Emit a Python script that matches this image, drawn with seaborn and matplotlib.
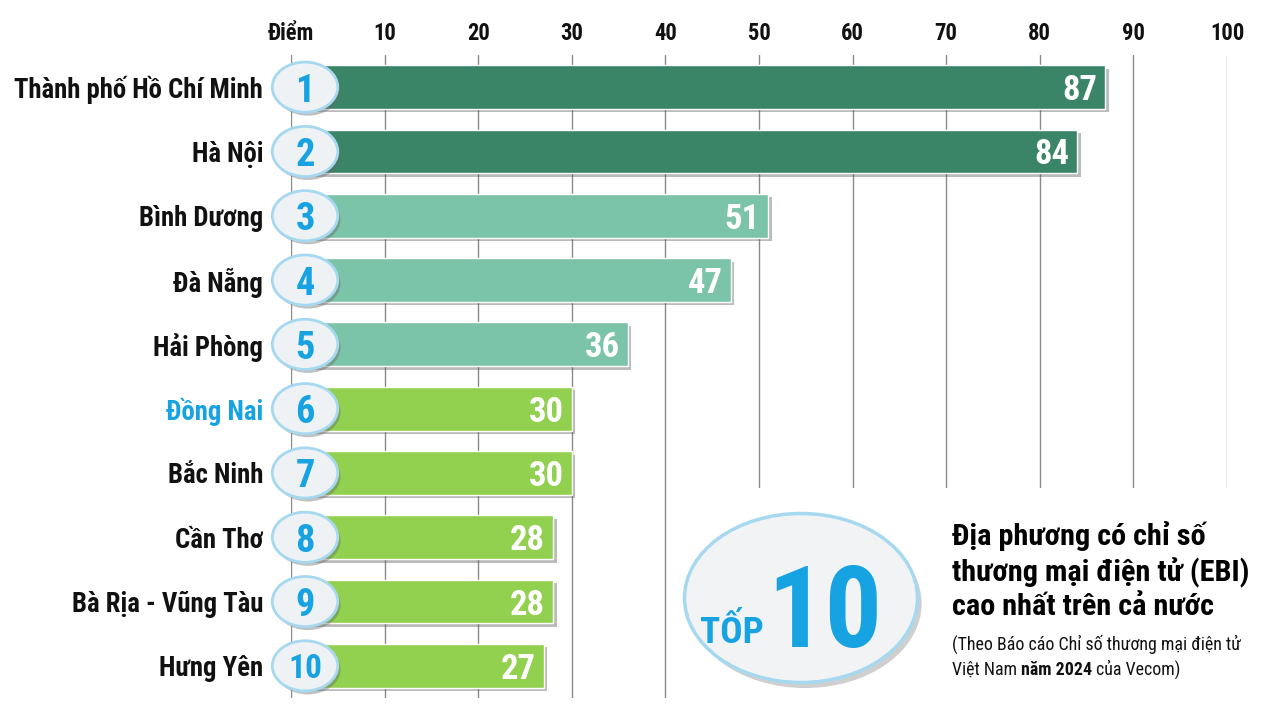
import matplotlib
matplotlib.use("Agg")
import matplotlib.pyplot as plt
import matplotlib.patheffects as pe
from matplotlib import font_manager as fm
from matplotlib.patches import Ellipse
import seaborn as sns

# data
cities = ["Thành phố Hồ Chí Minh", "Hà Nội", "Bình Dương", "Đà Nẵng", "Hải Phòng",
          "Đồng Nai", "Bắc Ninh", "Cần Thơ", "Bà Rịa - Vũng Tàu", "Hưng Yên"]
scores = [87, 84, 51, 47, 36, 30, 30, 28, 28, 27]
ranks = ["1", "2", "3", "4", "5", "6", "7", "8", "9", "10"]
bar_colors = ["#3a8468", "#3a8468", "#7cc4a9", "#7cc4a9", "#7cc4a9",
              "#92d050", "#92d050", "#92d050", "#92d050", "#92d050"]
tick_values = [0, 10, 20, 30, 40, 50, 60, 70, 80, 90, 100]
tick_labels = ["Điểm", "10", "20", "30", "40", "50", "60", "70", "80", "90", "100"]
highlight_city = "Đồng Nai"

title_lines = ["Địa phương có chỉ số", "thương mại điện tử (EBI)", "cao nhất trên cả nước"]
note_line1 = "(Theo Báo cáo Chỉ số thương mại điện tử"
note_line2 = [("Việt Nam", "normal"), ("năm 2024", "bold"), ("của Vecom)", "normal")]

BLUE = "#17a2e2"
W, H = 1281, 719

sns.set_style("white")

# the reference uses a condensed face; take the narrowest one that is installed
entries = fm.fontManager.ttflist
FONT, STRETCH = "Roboto", "normal"
for name in ["Roboto Condensed", "Liberation Sans Narrow", "Open Sans Condensed"]:
    if any(f.name == name for f in entries):
        FONT = name
        break
else:
    for name in ["Noto Sans", "Open Sans", "DejaVu Sans", "Roboto"]:
        st = [f.stretch for f in entries if f.name == name and f.stretch in ("condensed", "semi-condensed")]
        if st:
            FONT, STRETCH = name, ("condensed" if "condensed" in st else st[0])
            break
plt.rcParams["font.family"] = [FONT, "DejaVu Sans"]
plt.rcParams["font.stretch"] = STRETCH

fig = plt.figure(figsize=(W / 100, H / 100), dpi=100)
renderer = fig.canvas.get_renderer()


def text_w(s, size, weight="bold"):
    t = fig.text(0, 0, s, fontsize=size, fontweight=weight)
    w = t.get_window_extent(renderer).width
    t.remove()
    return w


# size factors so the text keeps the widths seen in the reference
k = min(1.05, 249 / text_w(cities[0], 20))
kt = 298 / text_w(title_lines[1], 19)
kn = 288 / text_w(note_line1, 13.5, "normal")
kd = min(1.0, 35 / text_w("87", 28))

ax = fig.add_axes([291 / W, 1 - 698 / H, (1227 - 291) / W, (698 - 55) / H])

sns.barplot(x=scores, y=cities, hue=cities, palette=bar_colors, legend=False,
            orient="h", width=0.68, saturation=1, ax=ax, zorder=2)
ax.set_xlim(0, 100)
ax.set_ylim(9.5, -0.5)
ax.set_xlabel("")
ax.set_ylabel("")
for s in ax.spines.values():
    s.set_visible(False)

# vertical grid, cut short on the right where the badge sits
for v in tick_values:
    ax.axvline(v, ymin=(0.328 if v >= 50 else 0), ymax=1, color="#8a8a8a", lw=1, zorder=0)

# bar shadows + value labels
for p, v in zip(ax.patches, scores):
    p.set_path_effects([pe.SimplePatchShadow(offset=(2.5, -2.5), shadow_rgbFace="#555555", alpha=0.4),
                        pe.Normal()])
    ax.annotate(str(v), xy=(p.get_width(), p.get_y() + p.get_height() / 2),
                xytext=(-6, 0), textcoords="offset points", ha="right", va="center_baseline",
                color="white", fontsize=28 * kd, fontweight="bold", zorder=5)

# rank badges
for i, r in enumerate(ranks):
    ell = Ellipse((1.5, i), width=7.0, height=0.78, facecolor="#eef2f5", edgecolor="#a6d9ef",
                  lw=2, zorder=4, clip_on=False)
    ell.set_path_effects([pe.SimplePatchShadow(offset=(2, -2.5), shadow_rgbFace="#666666", alpha=0.4),
                          pe.Normal()])
    ax.add_patch(ell)
    ax.text(1.5, i, r, ha="center", va="center_baseline", color=BLUE,
            fontsize=(31 if len(r) == 1 else 27) * kd, fontweight="bold", zorder=5, clip_on=False)

# axis ticks
ax.xaxis.tick_top()
ax.set_xticks(tick_values, tick_labels)
ax.tick_params(axis="x", length=0, pad=7, labelsize=17 * k)
ax.tick_params(axis="y", length=0, pad=20, labelsize=20 * k)
for lbl in ax.get_xticklabels() + ax.get_yticklabels():
    lbl.set_fontweight("bold")
    lbl.set_color("#111111")
for lbl in ax.get_yticklabels():
    if lbl.get_text() == highlight_city:
        lbl.set_color(BLUE)

# TOP 10 badge
badge = Ellipse((801 / W, 1 - 598 / H), 233 / W, 169 / H, transform=fig.transFigure,
                facecolor="#f1f3f5", edgecolor="#a6d9ef", lw=2.5)
badge.set_path_effects([pe.SimplePatchShadow(offset=(3, -4), shadow_rgbFace="#777777", alpha=0.35),
                        pe.Normal()])
fig.add_artist(badge)
ten = fig.text(882 / W, 1 - 647 / H, "10", color=BLUE, fontsize=92 * kd, fontweight="bold",
               ha="right", va="baseline")
x0 = ten.get_window_extent(renderer).x0
fig.text((x0 - 3) / W, 1 - 643 / H, "TỐP", color=BLUE, fontsize=30 * kd, fontweight="bold",
         ha="right", va="baseline")

# title block
for j, line in enumerate(title_lines):
    fig.text(952 / W, 1 - (545 + 35 * j) / H, line, fontsize=19 * kt, fontweight="bold",
             color="black", va="baseline")
fig.text(952 / W, 1 - 650 / H, note_line1, fontsize=13.5 * kn, color="#111111", va="baseline")

x = 952
for part, weight in note_line2:
    t = fig.text(x / W, 1 - 675 / H, part, fontsize=13.5 * kn, fontweight=weight,
                 color="#111111", va="baseline")
    x = t.get_window_extent(renderer).x1 + 4

fig.savefig("out.png", dpi=100, facecolor="white")
